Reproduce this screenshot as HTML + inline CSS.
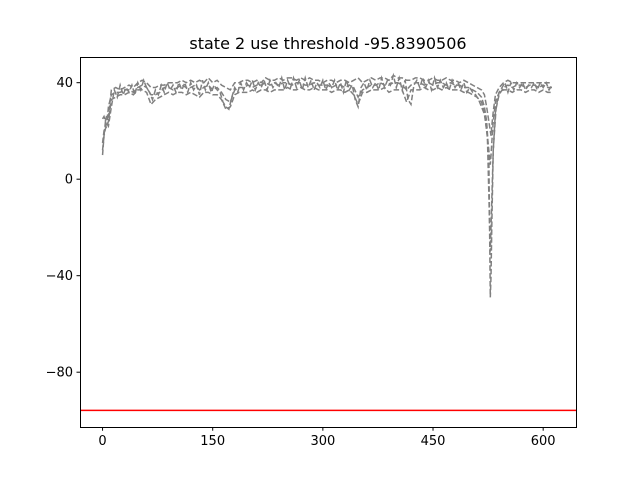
<!DOCTYPE html>
<html><head><meta charset="utf-8"><style>
body{margin:0;background:#fff}
svg text{font-family:"DejaVu Sans","Liberation Sans",sans-serif}
</style></head><body>
<svg id="chart" width="640" height="480" xmlns="http://www.w3.org/2000/svg">
<rect width="640" height="480" fill="#fff"/>
<text x="328" y="49" font-size="16" text-anchor="middle">state 2 use threshold -95.8390506</text>
<g id="plot"></g>
<rect x="80.5" y="57.5" width="496" height="370" fill="none" stroke="#000" stroke-width="1"/>
<g id="axes"></g>
</svg>
<script>
const xs=[0,2,4,6,8,12,18,24,30,36,42,48,54,60,66,72,78,84,90,96,102,108,114,120,126,132,138,144,150,156,162,168,174,180,186,192,198,204,210,216,222,228,234,240,246,252,258,264,270,276,282,288,294,300,306,312,318,324,330,336,342,348,354,360,366,372,378,384,390,396,402,408,414,420,426,432,438,444,450,456,462,468,474,480,486,492,498,504,510,516,520,523,526,528,529,530,532,535,540,546,552,558,564,570,576,582,588,594,600,606,612];
const seriesA=[25,26,24,27,26,37,38,37,38,39,38,40,41,40,38,38,39,39,40,40,40,41,40,41,40,41,40,42,40,41,39,38,37,40,40,41,41,40,41,40,42,41,41,42,41,42,42,41,42,41,42,41,41,40,41,41,40,41,41,40,41,42,40,41,42,41,42,42,41,43,42,42,41,41,42,42,41,41,42,41,41,42,41,41,40,41,40,39,38,37,35,30,24,20,18,22,28,35,38,40,41,40,40,40,40,40,40,40,40,40,40];
const seriesB=[15,20,22,23,30,35,36,36,37,37,36,38,39,38,35,35,36,38,38,37,38,39,38,38,39,37,38,39,37,38,36,33,32,37,38,38,39,38,39,39,40,39,40,39,40,40,39,40,40,39,39,40,39,39,39,38,39,39,38,39,38,34,37,38,39,39,40,39,39,40,40,39,37,39,40,40,39,40,39,40,40,39,40,39,39,38,38,37,36,34,30,24,10,-49,-40,-20,12,28,35,38,39,38,39,39,38,39,39,38,39,38,38];
const seriesC=[10,18,21,22,24,33,34,35,35,36,35,37,37,36,31,33,34,35,36,35,36,36,35,36,35,34,36,36,35,35,33,29,30,35,36,36,36,37,36,37,37,36,37,37,37,38,37,37,38,37,37,38,37,37,37,36,37,37,36,37,35,31,36,36,37,37,37,38,36,37,37,37,32,37,37,37,38,37,37,38,37,38,37,37,37,36,36,35,34,32,28,20,12,6,10,15,24,32,36,37,37,36,37,37,36,37,37,36,37,36,36];
// noisy series sampled every 4 units from 0 to 612
const xsNoisy=Array.from({length:154},(_,i)=>i*4);
const seriesD=[12,24,22,30,37,34,39,35,38,36,
39,35,40,37,41,38,36,33,37,35,
39,36,40,37,39,36,40,37,40,36,
40,37,39,35,41,37,40,36,39,37,
36,32,30,29,34,38,36,40,37,40,
38,41,37,40,38,41,37,41,38,40,
38,42,37,41,38,42,38,41,37,42,
38,41,37,40,38,41,37,40,38,41,
37,40,36,41,37,39,33,30,38,40,
37,41,38,40,37,42,38,41,39,43,
38,42,37,41,33,31,39,41,38,42,
38,41,37,42,38,41,38,40,37,41,
38,40,37,40,36,38,36,35,33,30,
27,18,-30,12,30,36,38,40,36,40,
37,40,38,40,37,39,38,40,37,40,
38,40,37,39];
const threshold=-95.8390506;
const xTicks=[0,150,300,450,600];
const yTicks=[40,0,-40,-80];
const xMin=-30.7,xMax=644.7,yMin=-102.8,yMax=50.4;
const L=80,R=576,T=57.6,B=427.2;
const sx=v=>L+(v-xMin)/(xMax-xMin)*(R-L);
const sy=v=>B-(v-yMin)/(yMax-yMin)*(B-T);
const NS="http://www.w3.org/2000/svg";
const plot=document.getElementById('plot'),axes=document.getElementById('axes');
[[xs,seriesA],[xs,seriesB],[xs,seriesC],[xsNoisy,seriesD]].forEach(([xv,s],i)=>{
  const p=document.createElementNS(NS,'path');
  p.setAttribute('d',s.map((v,j)=>(j?'L':'M')+sx(xv[j]).toFixed(2)+' '+sy(v).toFixed(2)).join(''));
  p.setAttribute('fill','none');p.setAttribute('stroke','#808080');p.setAttribute('stroke-width','1.5');
  p.setAttribute('stroke-dasharray','5.5,2.4');
  
  
  plot.appendChild(p);
});
const th=document.createElementNS(NS,'line');
th.setAttribute('x1',L);th.setAttribute('x2',R);th.setAttribute('y1',sy(threshold));th.setAttribute('y2',sy(threshold));
th.setAttribute('stroke','#ff0000');th.setAttribute('stroke-width','1.5');


plot.appendChild(th);
xTicks.forEach(v=>{
  const x=sx(v);
  const t=document.createElementNS(NS,'line');
  t.setAttribute('x1',x);t.setAttribute('x2',x);t.setAttribute('y1',B);t.setAttribute('y2',B+3.5);t.setAttribute('stroke','#000');
  
  
  axes.appendChild(t);
  const l=document.createElementNS(NS,'text');
  l.setAttribute('x',x);l.setAttribute('y',B+18);l.setAttribute('font-size','13');l.setAttribute('text-anchor','middle');
  l.textContent=String(v);
  
  
  axes.appendChild(l);
});
yTicks.forEach(v=>{
  const y=sy(v);
  const t=document.createElementNS(NS,'line');
  t.setAttribute('x1',L-3.5);t.setAttribute('x2',L);t.setAttribute('y1',y);t.setAttribute('y2',y);t.setAttribute('stroke','#000');
  
  
  axes.appendChild(t);
  const l=document.createElementNS(NS,'text');
  l.setAttribute('x',L-7);l.setAttribute('y',y+4.5);l.setAttribute('font-size','13');l.setAttribute('text-anchor','end');
  l.textContent=String(v).replace('-','\u2212');
  
  
  axes.appendChild(l);
});
</script>
</body></html>
